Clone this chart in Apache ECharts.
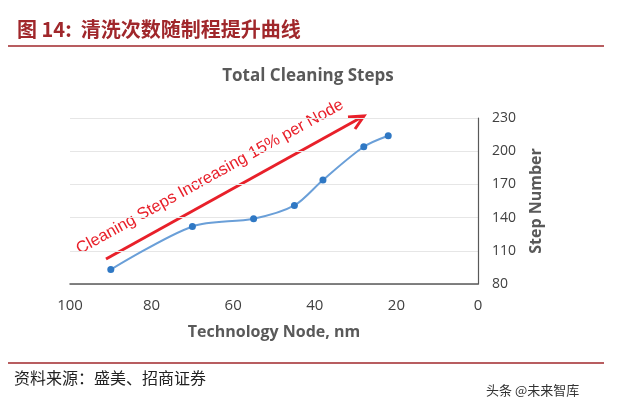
<!DOCTYPE html>
<html><head><meta charset="utf-8">
<script src="https://cdn.jsdelivr.net/npm/echarts@6/dist/echarts.min.js"></script>
<style>html,body{margin:0;padding:0;background:#fff}#c{width:618px;height:412px}</style>
</head><body><div id="c"></div>
<script>
const nodes = [90, 70, 55, 45, 38, 28, 22];
const steps = [93, 132, 139, 151, 174, 204, 214];
const yTicks = [80, 110, 140, 170, 200, 230];
const xTicks = [100, 80, 60, 40, 20, 0];
const chart = echarts.init(document.getElementById('c'));
chart.setOption({
  animation: false,
  title: [
    {text: '图 14:  清洗次数随制程提升曲线', left: 12, top: 14,
     textStyle: {color: '#a0272b', fontSize: 20, fontWeight: 'bold', fontFamily: 'Noto Sans CJK SC'}},
    {text: 'Total Cleaning Steps', left: 303, top: 63, textAlign: 'center',
     textStyle: {color: '#595959', fontSize: 17, fontWeight: 'bold', fontFamily: 'Open Sans'}}
  ],
  grid: {left: 70, right: 140, top: 118, bottom: 128},
  xAxis: {type: 'value', inverse: true, min: 0, max: 100, interval: 20,
    name: 'Technology Node, nm', nameLocation: 'middle', nameGap: 40,
    nameTextStyle: {color: '#595959', fontSize: 16, fontWeight: 'bold', fontFamily: 'Open Sans'},
    axisLine: {lineStyle: {color: '#595959', width: 1.5}}, axisTick: {show: false},
    axisLabel: {color: '#404040', fontSize: 15, margin: 14, fontFamily: 'Open Sans'},
    splitLine: {show: false}},
  yAxis: {type: 'value', position: 'right', min: 80, max: 230, interval: 30,
    name: 'Step Number', nameLocation: 'middle', nameGap: 50, nameRotate: 90,
    nameTextStyle: {color: '#595959', fontSize: 16, fontWeight: 'bold', fontFamily: 'Open Sans'},
    axisLine: {show: true, lineStyle: {color: '#595959', width: 1.2}}, axisTick: {show: false},
    axisLabel: {color: '#404040', fontSize: 14, margin: 14, fontFamily: 'Open Sans'},
    splitLine: {lineStyle: {color: '#e6e6e6'}}},
  series: [{type: 'line', smooth: 0.3, data: nodes.map((n, i) => [n, steps[i]]),
    symbol: 'circle', symbolSize: 7,
    itemStyle: {color: '#2f78c4'}, lineStyle: {color: '#6a9fd8', width: 2}}],
  graphic: [
    {type: 'line', shape: {x1: 106, y1: 259, x2: 362, y2: 117},
     style: {stroke: '#e8202a', lineWidth: 3}},
    {type: 'polyline', shape: {points: [[355, 129], [364, 116], [348, 117]]},
     style: {stroke: '#e8202a', lineWidth: 3, fill: null}},
    {type: 'text', x: 210, y: 177, rotation: 29 * Math.PI / 180,
     style: {text: 'Cleaning Steps Increasing 15% per Node', fill: '#e8202a', fontSize: 16.5,
       fontFamily: 'Liberation Sans', align: 'center', verticalAlign: 'middle'}},
    {type: 'line', shape: {x1: 8, y1: 46, x2: 604, y2: 46}, style: {stroke: '#a0272b', lineWidth: 1.5}},
    {type: 'line', shape: {x1: 8, y1: 363, x2: 604, y2: 363}, style: {stroke: '#a0272b', lineWidth: 1.5}},
    {type: 'text', x: 14, y: 370, style: {text: '资料来源：盛美、招商证券', fill: '#222', fontSize: 16, fontFamily: 'Noto Sans CJK SC'}},
    {type: 'text', x: 486, y: 384, style: {text: '头条 @未来智库', fill: '#333', fontSize: 13, fontFamily: 'Noto Sans CJK SC'}}
  ]
});
</script></body></html>
